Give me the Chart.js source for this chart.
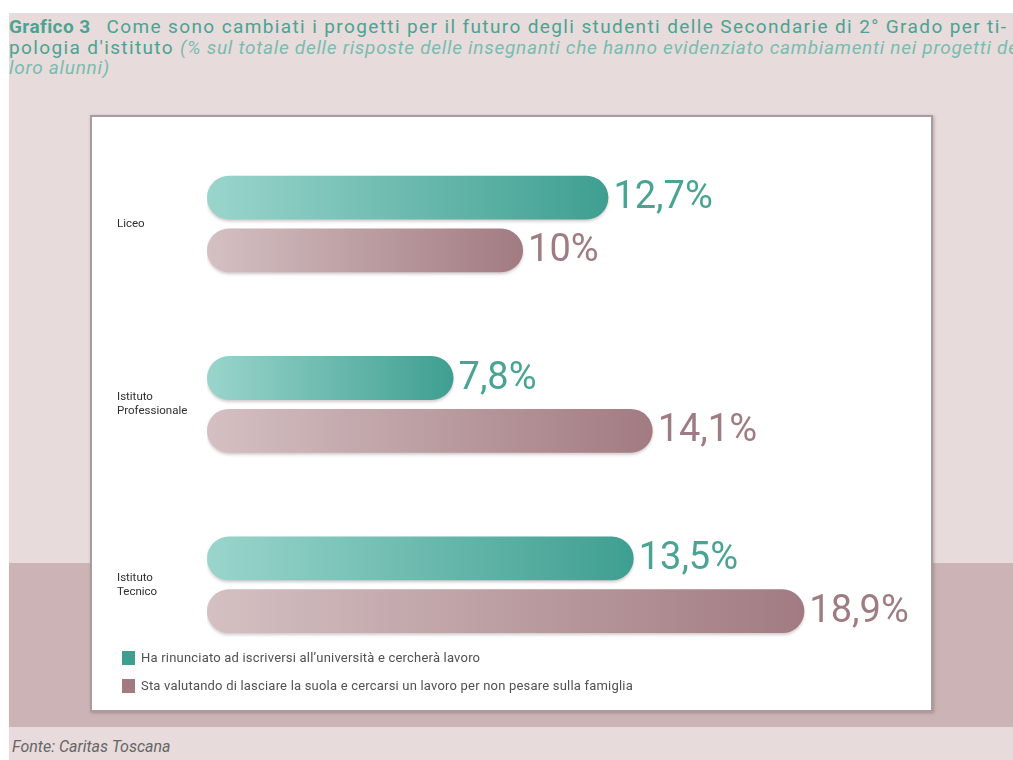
<!DOCTYPE html>
<html lang="it">
<head>
<meta charset="utf-8">
<title>Grafico 3</title>
<script src="https://cdn.jsdelivr.net/npm/chart.js@4.4.1/dist/chart.umd.min.js"></script>
<style>
    html, body {
        margin: 0;
        padding: 0;
        background: #ffffff;
        font-family: Roboto, "Noto Sans", sans-serif;
    }
    .page {
        position: absolute;
        left: 9px;
        top: 13px;
        width: 1004px;
        height: 747px;
        background: #e8dbdc;
        overflow: hidden;
    }
    .band {
        position: absolute;
        left: 0;
        top: 550px;
        width: 100%;
        height: 164px;
        background: #ccb4b6;
    }
    .title {
        position: absolute;
        left: 0;
        top: 4px;
        width: 1010px;
        color: #4ba392;
        font-size: 19px;
        letter-spacing: 1.38px;
        line-height: 20.5px;
        white-space: nowrap;
    }
    .title b { font-weight: 700; margin-right: 10px; letter-spacing: 0.4px; }
    .title i { color: #78bcb0; letter-spacing: 0.72px; }
    .box {
        position: absolute;
        left: 81px;
        top: 102px;
        width: 839px;
        height: 593px;
        background: #ffffff;
        border: 2px solid #a89c9e;
        box-shadow: 1px 1px 3px rgba(90, 60, 65, 0.35);
    }
    .chart-wrap {
        position: absolute;
        left: 0;
        top: 0;
        width: 839px;
        height: 593px;
    }
    .legend {
        position: absolute;
        left: 30px;
        top: 534px;
        font-size: 13px;
        letter-spacing: 0.2px;
        color: #505050;
    }
    .legend div {
        height: 28px;
        line-height: 14px;
        display: flex;
        align-items: flex-start;
    }
    .legend span.sw {
        display: inline-block;
        width: 13px;
        height: 14px;
        margin-right: 6px;
    }
    .source {
        position: absolute;
        left: 3px;
        top: 724px;
        font-size: 16px;
        font-style: italic;
        color: #666;
    }
</style>
</head>
<body>
<div class="page">
    <div class="band"></div>
    <div class="title">
        <div><b>Grafico 3</b> Come sono cambiati i progetti per il futuro degli studenti delle Secondarie di 2° Grado per ti-</div>
        <div>pologia d'istituto <i>(% sul totale delle risposte delle insegnanti che hanno evidenziato cambiamenti nei progetti dei</i></div>
        <div><i>loro alunni)</i></div>
    </div>
    <div class="box">
        <div class="chart-wrap"><canvas id="chart"></canvas></div>
        <div class="legend" id="legend"></div>
    </div>
    <div class="source">Fonte: Caritas Toscana</div>
</div>

<script>
// Tipologie d'istituto (etichette su due righe dove serve)
const istituti = [['Liceo'], ['Istituto', 'Professionale'], ['Istituto', 'Tecnico']];

// Valori in % per le due risposte
const rinunciaUniversita = [12.7, 7.8, 13.5];
const lasciareScuola = [10, 14.1, 18.9];

const serieLabels = [
    'Ha rinunciato ad iscriversi all\u2019università e cercherà lavoro',
    'Sta valutando di lasciare la suola e cercarsi un lavoro per non pesare sulla famiglia'
];

const tealStops = ['#9ad5cc', '#3e9f91'];
const mauveStops = ['#d4c0c2', '#a27b82'];
const labelColors = ['#4aa494', '#9f7c83'];

Chart.defaults.font.family = 'Roboto, "Noto Sans", sans-serif';

// gradient that runs from the start of each bar to its end
function barGradient(stops) {
    return function (context) {
        const chart = context.chart;
        if (!chart.chartArea || context.raw === undefined) return stops[1];
        const xs = chart.scales.x;
        const x0 = xs.getPixelForValue(0);
        const x1 = xs.getPixelForValue(context.raw);
        const g = chart.ctx.createLinearGradient(x0, 0, x1, 0);
        g.addColorStop(0, stops[0]);
        g.addColorStop(1, stops[1]);
        return g;
    };
}

// soft shadow under the bars
const barShadow = {
    id: 'barShadow',
    beforeDatasetsDraw(chart) {
        const ctx = chart.ctx;
        ctx.save();
        ctx.shadowColor = 'rgba(80, 50, 55, 0.25)';
        ctx.shadowBlur = 3;
        ctx.shadowOffsetY = 2;
    },
    afterDatasetsDraw(chart) {
        chart.ctx.restore();
    }
};

// percentage written just after the end of every bar
const valueLabels = {
    id: 'valueLabels',
    afterDatasetsDraw(chart) {
        const ctx = chart.ctx;
        ctx.save();
        ctx.font = '400 38px Roboto, "Noto Sans", sans-serif';
        ctx.textBaseline = 'middle';
        ctx.textAlign = 'left';
        chart.data.datasets.forEach((ds, i) => {
            const meta = chart.getDatasetMeta(i);
            ctx.fillStyle = labelColors[i];
            meta.data.forEach((bar, j) => {
                const txt = String(ds.data[j]).replace('.', ',') + '%';
                ctx.fillText(txt, bar.x + 5, bar.y + 1);
            });
        });
        ctx.restore();
    }
};

const ctx = document.getElementById('chart').getContext('2d');
const chart = new Chart(ctx, {
    type: 'bar',
    data: {
        labels: istituti,
        datasets: [
            {
                label: serieLabels[0],
                data: rinunciaUniversita,
                backgroundColor: barGradient(tealStops),
                borderRadius: 22,
                borderSkipped: false,
                barPercentage: 0.83,
                categoryPercentage: 0.585
            },
            {
                label: serieLabels[1],
                data: lasciareScuola,
                backgroundColor: barGradient(mauveStops),
                borderRadius: 22,
                borderSkipped: false,
                barPercentage: 0.83,
                categoryPercentage: 0.585
            }
        ]
    },
    options: {
        indexAxis: 'y',
        responsive: true,
        maintainAspectRatio: false,
        animation: false,
        layout: {
            padding: { left: 25, right: 35, top: 12, bottom: 35 }
        },
        scales: {
            x: {
                display: false,
                min: 0,
                max: 21.8
            },
            y: {
                grid: { display: false },
                border: { display: false },
                afterFit: (scale) => { scale.width = 90; },
                ticks: {
                    crossAlign: 'far',
                    color: '#2e2e2e',
                    font: { size: 11.5 }
                }
            }
        },
        plugins: {
            legend: { display: false },
            tooltip: { enabled: false }
        }
    },
    plugins: [barShadow, valueLabels]
});

// legend under the bars, built from the datasets
const legend = document.getElementById('legend');
chart.data.datasets.forEach((ds, i) => {
    const row = document.createElement('div');
    const sw = document.createElement('span');
    sw.className = 'sw';
    sw.style.background = i === 0 ? '#3e9f91' : '#a27b82';
    row.appendChild(sw);
    row.appendChild(document.createTextNode(ds.label));
    legend.appendChild(row);
});
</script>
</body>
</html>
